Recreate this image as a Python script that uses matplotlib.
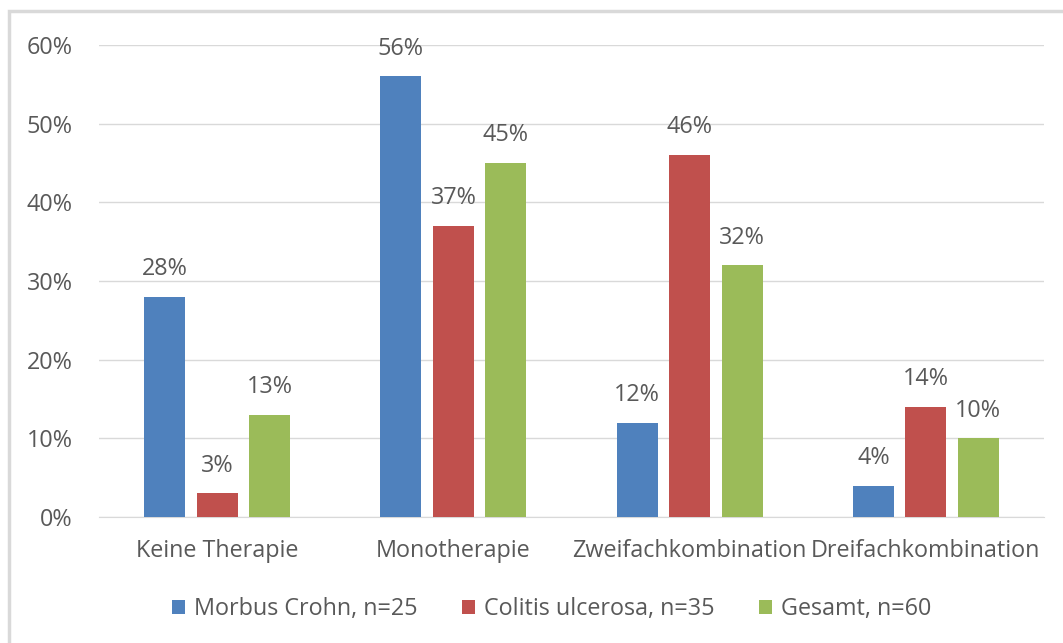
import matplotlib.pyplot as plt
import numpy as np
from matplotlib.patches import Rectangle

categories = ['Keine Therapie', 'Monotherapie', 'Zweifachkombination', 'Dreifachkombination']
series_names = ['Morbus Crohn, n=25', 'Colitis ulcerosa, n=35', 'Gesamt, n=60']
morbus_crohn = [28, 56, 12, 4]
colitis = [3, 37, 46, 14]
gesamt = [13, 45, 32, 10]
colors = ['#4F81BD', '#C0504D', '#9BBB59']
yticks = [0, 10, 20, 30, 40, 50, 60]

plt.rcParams['font.family'] = ['Open Sans', 'DejaVu Sans']
text_col = '#595959'
fs = 16.8

fig = plt.figure(figsize=(10.63, 6.43), dpi=100)
ax = fig.add_axes([99 / 1063, 1 - 517 / 643, 945 / 1063, 472 / 643])

# chart frame, cut off at right and bottom
fig.patches.append(Rectangle((9 / 1063, -0.1), 1.2, 1 - 11 / 643 + 0.1,
                             transform=fig.transFigure, fill=False,
                             edgecolor='#D9D9D9', linewidth=2.5))

x = np.arange(len(categories))
width = 0.174
step = 0.222
for i, (vals, name) in enumerate(zip([morbus_crohn, colitis, gesamt], series_names)):
    pos = x + (i - 1) * step
    ax.bar(pos, vals, width, color=colors[i], label=name, zorder=3)
    for p, v in zip(pos, vals):
        ax.text(p, v + 2.0, f'{v}%', ha='center', va='bottom',
                fontsize=fs, color=text_col)

ax.set_xlim(-0.5, 3.5)
ax.set_ylim(0, 60)
ax.set_yticks(yticks)
ax.set_yticklabels([f'{t}%' for t in yticks])
ax.set_xticks(x)
ax.set_xticklabels(categories)
ax.tick_params(axis='both', length=0, labelsize=fs, labelcolor=text_col)
ax.tick_params(axis='y', pad=19)
ax.tick_params(axis='x', pad=16)
ax.grid(axis='y', color='#D9D9D9', linewidth=1, zorder=0)
for s in ['top', 'right', 'left']:
    ax.spines[s].set_visible(False)
ax.spines['bottom'].set_color('#D9D9D9')

leg = fig.legend(loc='center', bbox_to_anchor=(552 / 1063, 1 - 609 / 643), ncol=3,
                 frameon=False, fontsize=fs, handlelength=0.55, handleheight=0.55,
                 handletextpad=0.4, columnspacing=1.9)
for t in leg.get_texts():
    t.set_color(text_col)

fig.savefig('out.png', dpi=100)
